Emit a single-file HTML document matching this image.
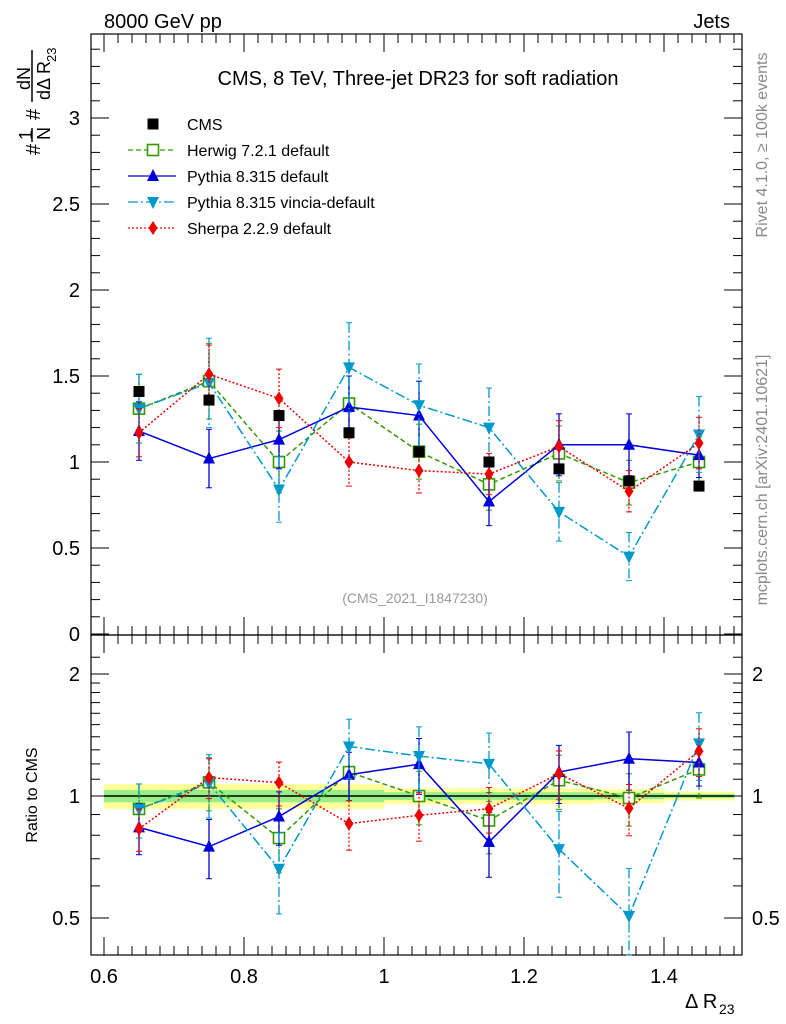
<!DOCTYPE html>
<html><head><meta charset="utf-8"><style>
body{margin:0;background:#fff;}
svg{display:block;font-family:"Liberation Sans",sans-serif;}
</style></head><body>
<svg id="c" width="786" height="1024" viewBox="0 0 786 1024"></svg>
<script>
const xVals=[0.65,0.75,0.85,0.95,1.05,1.15,1.25,1.35,1.45];
const cmsVals=[1.41,1.36,1.27,1.17,1.06,1.00,0.96,0.89,0.86];
const herwigVals=[1.31,1.47,1.00,1.34,1.06,0.87,1.05,0.88,1.00];
const herwigErr=[0.2,0.22,0.18,0.2,0.16,0.15,0.16,0.13,0.15];
const pythiaVals=[1.18,1.02,1.13,1.32,1.27,0.77,1.10,1.10,1.04];
const pythiaErr=[0.17,0.17,0.17,0.18,0.2,0.14,0.18,0.18,0.13];
const vinciaVals=[1.31,1.46,0.84,1.55,1.33,1.20,0.71,0.45,1.16];
const vinciaErr=[0.2,0.26,0.19,0.26,0.24,0.23,0.17,0.14,0.22];
const sherpaVals=[1.17,1.51,1.37,1.00,0.95,0.93,1.09,0.83,1.11];
const sherpaErr=[0.14,0.17,0.17,0.14,0.13,0.12,0.15,0.12,0.15];
const yellowBand=[0.07,0.07,0.07,0.07,0.045,0.045,0.045,0.04,0.025];
const greenBand=[0.035,0.035,0.035,0.035,0.022,0.022,0.022,0.018,0.012];
const xTicks=[0.6,0.8,1,1.2,1.4];
const yTicks=[0,0.5,1,1.5,2,2.5,3];
const rTicks=[0.5,1,2];

const S=document.getElementById('c');const NS='http://www.w3.org/2000/svg';
function el(t,a,p){const e=document.createElementNS(NS,t);for(const k in a)e.setAttribute(k,a[k]);(p||S).appendChild(e);return e;}
const L=91,R=742,T=34,B=635,RB=955;
const X=v=>104+700*(v-0.6);
const Y=v=>634-172*v;
const RY=v=>796-122/Math.log(2)*Math.log(v);
const ratio=(a)=>a.map((v,i)=>v/cmsVals[i]);

const bg=el('g',{});
xVals.forEach((x,i)=>{
 const x0=X(x-0.05),w=X(x+0.05)-X(x-0.05)+0.5;
 el('rect',{x:x0,y:RY(1+yellowBand[i]),width:w,height:RY(1-yellowBand[i])-RY(1+yellowBand[i]),fill:'#ffff99'},bg);
 el('rect',{x:x0,y:RY(1+greenBand[i]),width:w,height:RY(1-greenBand[i])-RY(1+greenBand[i]),fill:'#99ee88'},bg);
});
el('line',{x1:X(0.6),x2:X(1.5),y1:RY(1),y2:RY(1),stroke:'#000','stroke-width':1.5});

el('rect',{x:L,y:T,width:R-L,height:B-T,fill:'none',stroke:'#000','stroke-width':1.2});
el('rect',{x:L,y:B,width:R-L,height:RB-B,fill:'none',stroke:'#000','stroke-width':1.2});

function txt(s,x,y,a){const t=el('text',Object.assign({x:x,y:y,'font-size':20,fill:'#000'},a||{}));t.textContent=s;return t;}
for(let v=0;v<=3.5;v+=0.1){const y=Y(v);if(y<T)break;const major=Math.abs(v*2-Math.round(v*2))<1e-6;const l=major?18:9;
 el('line',{x1:L,x2:L+l,y1:y,y2:y,stroke:'#000'});el('line',{x1:R,x2:R-l,y1:y,y2:y,stroke:'#000'});}
yTicks.forEach(v=>{const t=txt(String(v),80,Y(v)+7,{'text-anchor':'end'});});
for(let v=0.58;v<1.52;v+=0.02){const x=X(v);if(x<L||x>R)continue;const r=Math.round(v*100);const major=r%20===0;const l=major?18:9;
 el('line',{x1:x,x2:x,y1:B,y2:B-l,stroke:'#000'});el('line',{x1:x,x2:x,y1:T,y2:T+l,stroke:'#000'});
 el('line',{x1:x,x2:x,y1:RB,y2:RB-l,stroke:'#000'});el('line',{x1:x,x2:x,y1:B,y2:B+l,stroke:'#000'});}
xTicks.forEach(v=>{const t=txt(String(v),X(v),983,{'text-anchor':'middle'});});
[0.4,0.5,0.6,0.7,0.8,0.9,1,1.1,1.2,1.3,1.4,1.5,1.6,1.7,1.8,1.9,2,2.2].forEach(v=>{const y=RY(v);if(y>RB||y<B)return;const major=(v==0.5||v==1||v==2);const l=major?18:9;
 el('line',{x1:L,x2:L+l,y1:y,y2:y,stroke:'#000'});el('line',{x1:R,x2:R-l,y1:y,y2:y,stroke:'#000'});});
rTicks.forEach(v=>{txt(String(v),80,RY(v)+7,{'text-anchor':'end'});txt(String(v),752,RY(v)+7);});

function series(name,vals,err,color,dash,marker,ratioPanel){
 const g=el('g',{});
 const yf=ratioPanel?RY:Y;
 const v=ratioPanel?ratio(vals):vals;
 const e=ratioPanel?err.map((d,i)=>d/cmsVals[i]):err;
 xVals.forEach((x,i)=>{const y1=Math.max(yf(v[i]+e[i]),ratioPanel?B:T),y2=Math.min(yf(Math.max(v[i]-e[i],0.3)),ratioPanel?RB:B);
  el('line',{x1:X(x),x2:X(x),y1:y1,y2:y2,stroke:color,'stroke-width':1.3,'stroke-dasharray':dash||''},g);
  el('line',{x1:X(x)-3,x2:X(x)+3,y1:y1,y2:y1,stroke:color},g);el('line',{x1:X(x)-3,x2:X(x)+3,y1:y2,y2:y2,stroke:color},g);});
 el('polyline',{points:xVals.map((x,i)=>X(x)+','+yf(v[i])).join(' '),fill:'none',stroke:color,'stroke-width':1.5,'stroke-dasharray':dash||''},g);
 xVals.forEach((x,i)=>drawMarker(g,marker,X(x),yf(v[i]),color));
}
function drawMarker(g,m,x,y,c){
 if(m=='sq')el('rect',{x:x-5.5,y:y-5.5,width:11,height:11,fill:'#fff',stroke:c,'stroke-width':1.6},g);
 if(m=='up')el('polygon',{points:`${x},${y-7} ${x-6},${y+5} ${x+6},${y+5}`,fill:c},g);
 if(m=='down')el('polygon',{points:`${x},${y+7} ${x-6},${y-5} ${x+6},${y-5}`,fill:c},g);
 if(m=='dia')el('polygon',{points:`${x},${y-7} ${x-4.5},${y} ${x},${y+7} ${x+4.5},${y}`,fill:c},g);
 if(m=='blk')el('rect',{x:x-5.5,y:y-5.5,width:11,height:11,fill:c},g);
}
const defs=[['herwig',herwigVals,herwigErr,'#339900','5,3','sq'],['pythia',pythiaVals,pythiaErr,'#0000dd','','up'],['vincia',vinciaVals,vinciaErr,'#0099cc','10,3,2,3','down'],['sherpa',sherpaVals,sherpaErr,'#ee0000','2,2','dia']];
defs.forEach(d=>series(d[0]+'-series',d[1],d[2],d[3],d[4],d[5],false));
const cg=el('g',{});
xVals.forEach((x,i)=>drawMarker(cg,'blk',X(x),Y(cmsVals[i]),'#000'));
defs.forEach(d=>series(d[0]+'-ratio',d[1],d[2],d[3],d[4],d[5],true));

const names=['CMS','Herwig 7.2.1 default','Pythia 8.315 default','Pythia 8.315 vincia-default','Sherpa 2.2.9 default'];
const lg=el('g',{});
names.forEach((n,i)=>{const y=124+26*i;
 if(i==0)drawMarker(lg,'blk',153,y,'#000');else{const d=defs[i-1];el('line',{x1:128,x2:176,y1:y,y2:y,stroke:d[3],'stroke-width':1.3,'stroke-dasharray':d[4]},lg);drawMarker(lg,d[5],153,y,d[3]);}
 const t=txt(n,187,y+6,{'font-size':16});lg.appendChild(t);});

txt('8000 GeV pp',104,28);
txt('Jets',730,28,{'text-anchor':'end'});
txt('CMS, 8 TeV, Three-jet DR23 for soft radiation',418,85,{'text-anchor':'middle'});
txt('(CMS_2021_I1847230)',415,603,{'text-anchor':'middle','font-size':14,fill:'#999'});
txt('Rivet 4.1.0, \u2265 100k events',0,0,{'font-size':16,fill:'#888','text-anchor':'middle',transform:'translate(767,145) rotate(-90)'});
txt('mcplots.cern.ch [arXiv:2401.10621]',0,0,{'font-size':16,fill:'#888','text-anchor':'middle',transform:'translate(767,480) rotate(-90)'});
txt('Ratio to CMS',0,0,{'font-size':16,'text-anchor':'middle',transform:'translate(37,795) rotate(-90)'});
const xt=txt('\u0394 R',685,1008,{'font-size':20});
txt('23',719,1014,{'font-size':14});
const yg=el('g',{transform:'translate(34,100) rotate(-90)'});
[['#',-55,0,20],['1',-40,-8,18],['N',-40,10,18],['#',-20,0,20],['dN',10,-10,18],['d\u0394 R',0,10,18],['23',38,16,13]].forEach(a=>{const t=el('text',{x:a[1],y:a[2]+6,'font-size':a[3]},yg);t.textContent=a[0];});
el('line',{x1:-42,x2:-28,y1:-2,y2:-2,stroke:'#000','stroke-width':1.5},yg);
el('line',{x1:-2,x2:50,y1:-2,y2:-2,stroke:'#000','stroke-width':1.5},yg);
</script>
</body></html>
